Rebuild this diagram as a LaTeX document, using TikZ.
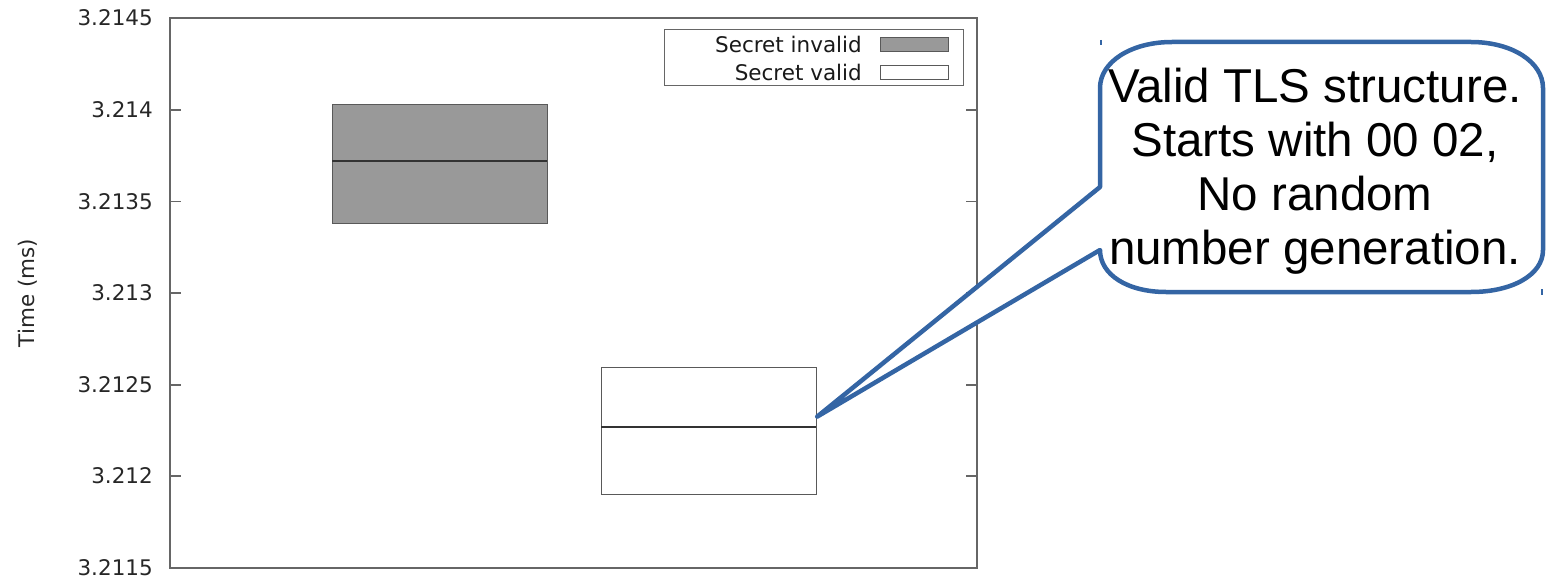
\documentclass[tikz,border=0pt]{standalone}
\usepackage{fontspec}
\setmainfont{Liberation Sans}
\newfontfamily\plotfont{DejaVu Sans}
\definecolor{calloutblue}{RGB}{52,101,164}
\begin{document}
\begin{tikzpicture}[x=1pt,y=-1pt,
  framestyle/.style={draw=black!60, line width=1.2pt},
  ticklabel/.style={font=\plotfont\fontsize{21.5}{24}\selectfont, anchor=east, text=black!85, inner sep=0pt},
  legtext/.style={font=\plotfont\fontsize{21.5}{24}\selectfont, anchor=east, text=black!90, inner sep=0pt},
  boxplot/.style={draw=black!65, line width=1.2pt, inner sep=0pt, anchor=north west},
  calloutline/.style={draw=calloutblue, line width=4.5pt, line join=round, fill=white},
  callouttext/.style={font=\fontsize{47.5}{54}\selectfont, align=center, text=black, inner sep=0pt}]
\useasboundingbox (0,0) rectangle (1548,578);
% frame
\draw[framestyle] (170,18) rectangle (977,568);
\foreach \yy/\lab in {18/3.2145,110/3.214,201.5/3.2135,293/3.213,385/3.2125,476/3.212,568/3.2115}{
  \node[ticklabel] (t\lab) at (153,\yy) {\lab};
}
\foreach \yy in {110,201.5,293,385,476}{
  \draw[framestyle] (170,\yy) -- (181,\yy);
  \draw[framestyle] (966,\yy) -- (977,\yy);
}
\node[font=\plotfont\fontsize{21.5}{24}\selectfont, rotate=90, text=black!85] (ylab) at (28,293) {Time (ms)};
% boxes
\node[boxplot, fill=black!40, minimum width=215pt, minimum height=119pt] (inv) at (332,104) {};
\draw[draw=black!80, line width=1.2pt] (332,161) -- (547,161);
\node[boxplot, fill=white, minimum width=215pt, minimum height=127pt] (val) at (601,367) {};
\draw[draw=black!80, line width=1.2pt] (601,427) -- (816,427);
% legend
\node[draw=black!60, line width=1.2pt, inner sep=0pt, anchor=north west, minimum width=299pt, minimum height=56pt] (leg) at (664,29) {};
\node[legtext] (l1) at (862,44) {Secret invalid};
\node[legtext] (l2) at (862,72) {Secret valid};
\node[boxplot, fill=black!40, minimum width=68pt, minimum height=14pt] (k1) at (880,37) {};
\node[boxplot, fill=white, minimum width=68pt, minimum height=14pt] (k2) at (880,65) {};
% callout
\coordinate (tip) at ([yshift=14.5pt]val.east);
\draw[calloutline] (1100,187) -- (1100,88) .. controls (1100,62) and (1131,42) .. (1172,42)
  -- (1471,42) .. controls (1512,42) and (1543,62) .. (1543,88)
  -- (1543,250) .. controls (1543,275) and (1512,292) .. (1471,292)
  -- (1166,292) .. controls (1128,292) and (1100,275) .. (1100,250)
  -- (tip) -- cycle;
\node[callouttext] (ctext) at (1315,171) {Valid TLS structure.\\ Starts with 00 02,\\No random\\ number generation.};
\draw[calloutblue, line width=1.5pt] (1101,40) -- (1101,45);
\draw[calloutblue, line width=1.5pt] (1542,289) -- (1542,295);
\end{tikzpicture}
\end{document}
